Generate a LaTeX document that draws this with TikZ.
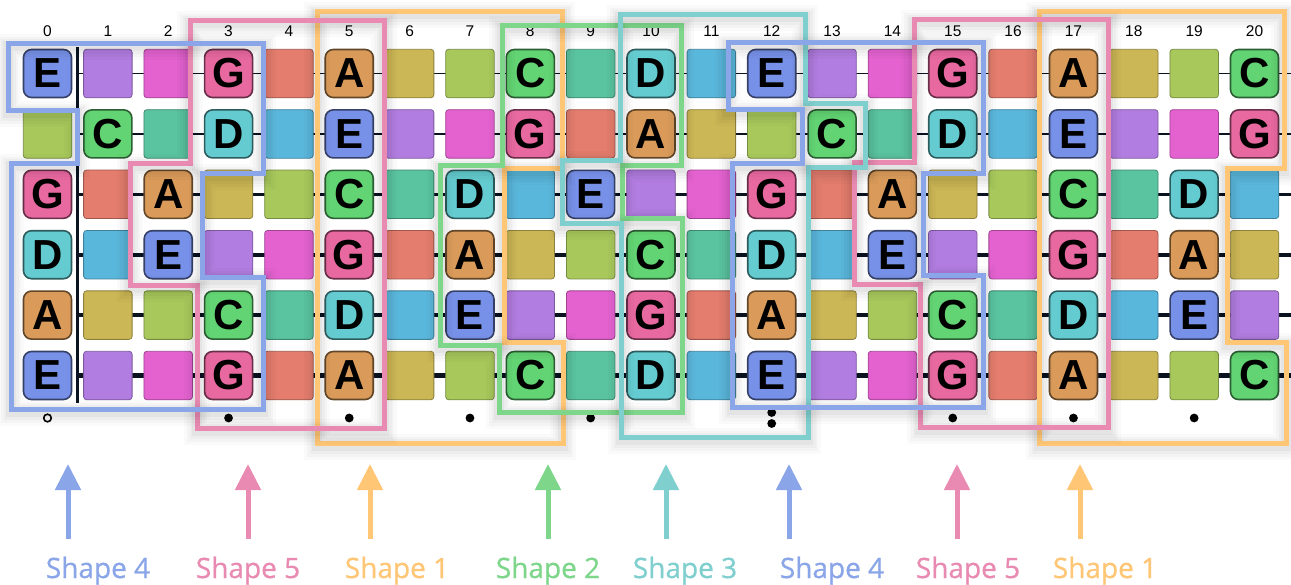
\documentclass[tikz,border=0pt]{standalone}
\usepackage{fontspec}
\setmainfont{Liberation Sans}
\newfontfamily\lblfont[FakeBold=0.7]{Open Sans}
\usetikzlibrary{arrows.meta}
\definecolor{p0}{HTML}{62D473}
\definecolor{p1}{HTML}{5AC3A0}
\definecolor{p2}{HTML}{64CCD0}
\definecolor{p3}{HTML}{5AB7DC}
\definecolor{p4}{HTML}{7891E8}
\definecolor{p5}{HTML}{B27DE1}
\definecolor{p6}{HTML}{E462D0}
\definecolor{p7}{HTML}{E869A0}
\definecolor{p8}{HTML}{E47D6E}
\definecolor{p9}{HTML}{DA9B5A}
\definecolor{p10}{HTML}{CBB755}
\definecolor{p11}{HTML}{A8C85C}
\definecolor{strk}{HTML}{0B1220}
\definecolor{sBlue}{HTML}{8AA5E8}
\definecolor{sPink}{HTML}{E98AB2}
\definecolor{sOrange}{HTML}{FFC676}
\definecolor{sGreen}{HTML}{7DD68A}
\definecolor{sTeal}{HTML}{80CFCF}
\begin{document}
\begin{tikzpicture}[x=1pt,y=-1pt,
  cellbox/.style={rectangle,rounded corners=3pt,minimum size=48.5pt,inner sep=0pt,line width=0.8pt},
  notebox/.style={rectangle,rounded corners=8pt,minimum size=48pt,inner sep=0pt,line width=1.6pt,font=\fontsize{42}{42}\selectfont\bfseries},
  fretnum/.style={font=\fontsize{15.5}{16}\selectfont},
  outline/.style={line width=5pt,
     preaction={draw=black,draw opacity=0.018,line width=26pt,transform canvas={yshift=-4pt}},
     preaction={draw=black,draw opacity=0.022,line width=20pt,transform canvas={yshift=-4pt}},
     preaction={draw=black,draw opacity=0.028,line width=15pt,transform canvas={yshift=-3pt}},
     preaction={draw=black,draw opacity=0.035,line width=10pt,transform canvas={yshift=-3pt}}},
  shapearrow/.style={line width=5pt,-{Triangle[width=25pt,length=26pt]}},
  shapelabel/.style={font=\lblfont\fontsize{28}{28}\selectfont,anchor=base}
]
\useasboundingbox (0,0) rectangle (1291,584);
\fill[white] (0,0) rectangle (1291,584);
% strings
\foreach \r/\w in {1/1.8,2/2.2,3/3,4/3.8,5/4.6,6/5.5}{
  \pgfmathsetmacro\yy{73.5+60.4*(\r-1)}
  \coordinate (s\r a) at (77.5,\yy);
  \coordinate (s\r b) at (1291,\yy);
  \draw[strk,line width=\w pt] (s\r a) -- (s\r b);
}
% nut
\coordinate (nutT) at (77.5,47);
\coordinate (nutB) at (77.5,403);
\draw[strk,line width=3.5pt] (nutT) -- (nutB);
% cells
\foreach \r/\o in {1/4,2/11,3/7,4/2,5/9,6/4}{
  \foreach \f in {0,...,20}{
    \pgfmathtruncatemacro\p{mod(\o+\f,12)}
    \pgfmathsetmacro\xx{47.5+60.35*\f}
    \pgfmathsetmacro\yy{73.5+60.4*(\r-1)}
    \ifcase\p \def\nm{C}\or\def\nm{}\or\def\nm{D}\or\def\nm{}\or\def\nm{E}\or\def\nm{}\or\def\nm{}\or\def\nm{G}\or\def\nm{}\or\def\nm{A}\or\def\nm{}\or\def\nm{}\fi
    \ifx\nm\empty
      \node[cellbox,fill=p\p,draw=p\p!70!black] (c-\r-\f) at (\xx,\yy) {};
    \else
      \node[notebox,fill=p\p,draw=p\p!45!black] (c-\r-\f) at (\xx,\yy) {\nm};
    \fi
  }
}
% fret numbers
\foreach \f in {0,...,20}{
  \node[fretnum] (fn-\f) at ({47.5+60.35*\f},31) {\f};
}
% markers
\draw[line width=1.6pt] (47.5,418) circle (3.8);
\foreach \f in {3,5,7,9,15,17,19}{
  \fill ({47.5+60.35*\f},418) circle (4.4);
}
\fill (771.7,412.5) circle (4.4);
\fill (771.7,423.5) circle (4.4);
% shape outlines
\draw[outline,sOrange] (317,11) -- (562,11) -- (562,168) -- (504,168) -- (504,342) -- (563,342) -- (563,443) -- (317,443) -- cycle;
\draw[outline,sOrange] (1039,11) -- (1284,11) -- (1284,168) -- (1227,168) -- (1227,342) -- (1286,342) -- (1286,443) -- (1039,443) -- cycle;
\draw[outline,sPink] (190,20) -- (384,20) -- (384,428) -- (197,428) -- (197,285) -- (130,285) -- (130,163) -- (190,163) -- cycle;
\draw[outline,sPink] (914,19) -- (1108,19) -- (1108,427) -- (920,427) -- (920,284) -- (854,284) -- (854,162) -- (914,162) -- cycle;
\draw[outline,sGreen] (502,25) -- (681,25) -- (681,165) -- (622,165) -- (622,218) -- (682,218) -- (682,412) -- (499,412) -- (499,345) -- (440,345) -- (440,165) -- (502,165) -- cycle;
\draw[outline,sTeal] (620,14) -- (805,14) -- (805,103) -- (865,103) -- (865,167) -- (808,167) -- (808,437) -- (621,437) -- (621,223) -- (562,223) -- (562,160) -- (620,160) -- cycle;
\draw[outline,sBlue] (8,43) -- (263,43) -- (263,173) -- (202,173) -- (202,277) -- (263,277) -- (263,409) -- (11,409) -- (11,163) -- (77,163) -- (77,110) -- (8,110) -- cycle;
\draw[outline,sBlue] (728,42) -- (983,42) -- (983,173) -- (923,173) -- (923,275) -- (983,275) -- (983,407) -- (732,407) -- (732,163) -- (802,163) -- (802,109) -- (728,109) -- cycle;
% arrows
\foreach \i/\x/\c in {1/68/sBlue,2/248/sPink,3/370/sOrange,4/548/sGreen,5/666/sTeal,6/789/sBlue,7/957/sPink,8/1080/sOrange}{
  \coordinate (ab\i) at (\x,539);
  \coordinate (at\i) at (\x,464);
  \draw[shapearrow,\c] (ab\i) -- (at\i);
}
% labels
\node[shapelabel,text=sBlue] (l1) at (98,578) {Shape 4};
\node[shapelabel,text=sPink] (l2) at (248,578) {Shape 5};
\node[shapelabel,text=sOrange] (l3) at (397,578) {Shape 1};
\node[shapelabel,text=sGreen] (l4) at (548,578) {Shape 2};
\node[shapelabel,text=sTeal] (l5) at (685,578) {Shape 3};
\node[shapelabel,text=sBlue] (l6) at (832,578) {Shape 4};
\node[shapelabel,text=sPink] (l7) at (968,578) {Shape 5};
\node[shapelabel,text=sOrange] (l8) at (1105,578) {Shape 1};
\end{tikzpicture}
\end{document}
